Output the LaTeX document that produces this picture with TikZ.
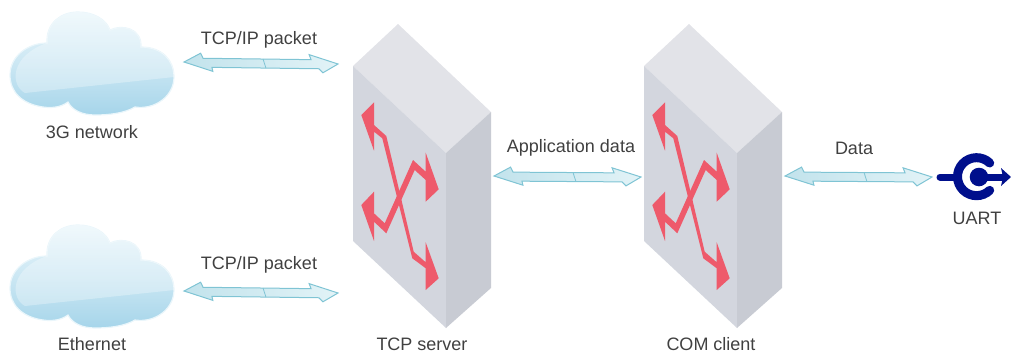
\documentclass[tikz,border=0pt]{standalone}
\usepackage{fontspec}
\setmainfont{Liberation Sans}
\usepackage{tikz}
\usetikzlibrary{calc}

\definecolor{labelgray}{HTML}{404040}
\definecolor{linkline}{HTML}{7FC4D4}
\definecolor{linkdark}{HTML}{C2E3EC}
\definecolor{linklight}{HTML}{E2F3F7}
\definecolor{boxtop}{HTML}{E2E3E8}
\definecolor{boxfront}{HTML}{D3D6DE}
\definecolor{boxside}{HTML}{C8CBD3}
\definecolor{routered}{HTML}{EE5A6B}
\definecolor{cloudhigh}{HTML}{EAF6FB}
\definecolor{cloudlow}{HTML}{A6D5EA}
\definecolor{portblue}{HTML}{000F8C}

\tikzset{
	label text/.style={font=\fontsize{18}{20}\selectfont,text=labelgray,inner sep=0pt},
	link arrow/.style={draw=linkline,line width=1pt,line join=miter,left color=linkdark,right color=linklight},
	link split/.style={draw=linkline,line width=.8pt},
	switch box/.pic={
		\fill[boxtop] (0,0) -- (45,-42) -- (138,46) -- (93,87) -- cycle;
		\fill[boxfront] (0,0) -- (93,87) -- (93,262) -- (0,175) -- cycle;
		\fill[boxside] (93,87) -- (138,46) -- (138,222) -- (93,262) -- cycle;
		\fill[routered] (8.3,49) -- (21,36.3) -- (21,59) -- (33.3,70) -- (60.7,185.7) -- (72.7,196.3)
			-- (72.7,176.3) -- (85.7,212.3) -- (72.7,224) -- (72.7,202.3) -- (59.3,192.3)
			-- (29.3,72.3) -- (21,65.7) -- (21,84.7) -- cycle;
		\fill[routered] (8.3,139) -- (21,125.7) -- (21,147.3) -- (31.7,157.3) -- (60,94) -- (72.7,105.7)
			-- (72.7,86.7) -- (85.7,123.3) -- (72.7,135.7) -- (72.7,114) -- (61.7,104)
			-- (33.3,167.3) -- (21,155.7) -- (21,175) -- cycle;
		\coordinate (-up) at (-15,-2);
		\coordinate (-down) at (-15,227);
		\coordinate (-left) at (-3,111);
		\coordinate (-right) at (141,110);
	},
	cloud blob/.pic={
		\path[draw=cloudhigh,line width=1.2pt,top color=cloudhigh,bottom color=cloudlow,middle color=cloudhigh!55!cloudlow]
			(47,43) .. controls (46,22) and (62,12) .. (78,12)
			.. controls (93,12) and (106,19) .. (110,30)
			.. controls (122,24) and (142,28) .. (141,47)
			.. controls (162,47) and (174,60) .. (174,77)
			.. controls (174,96) and (155,110) .. (135,107)
			.. controls (125,113) and (110,115) .. (95,115)
			.. controls (82,115) and (72,110) .. (68,102)
			.. controls (60,108) and (50,108) .. (43,107)
			.. controls (22,104) and (10,92) .. (10,75)
			.. controls (10,56) and (28,43) .. (47,43) -- cycle;
		\begin{scope}
			\clip (47,43) .. controls (46,22) and (62,12) .. (78,12)
			.. controls (93,12) and (106,19) .. (110,30)
			.. controls (122,24) and (142,28) .. (141,47)
			.. controls (162,47) and (174,60) .. (174,77)
			-- (25,93) .. controls (10,85) and (10,56) .. (47,43) -- cycle;
			\fill[white,opacity=.3] (0,0) rectangle (180,110);
		\end{scope}
		\coordinate (-port) at (184,62);
	},
}

\newcommand{\datalink}[2]{
	\draw[link arrow] (#1)
		-- ($(#1)!16.5pt!(#2)!9pt!90:(#2)$)
		-- ($(#1)!19pt!(#2)!4pt!90:(#2)$)
		-- ($(#2)!27pt!(#1)!4pt!-90:(#1)$)
		-- ($(#2)!29pt!(#1)!9pt!-90:(#1)$)
		-- (#2)
		-- ($(#2)!15pt!(#1)!9pt!90:(#1)$)
		-- ($(#2)!19pt!(#1)!5pt!90:(#1)$)
		-- ($(#1)!28pt!(#2)!5pt!-90:(#2)$)
		-- ($(#1)!29pt!(#2)!9pt!-90:(#2)$)
		-- cycle;
	\draw[link split] ($(#1)!79pt!(#2)!4pt!90:(#2)$) -- ($(#1)!82pt!(#2)!5pt!-90:(#2)$);
}

\begin{document}
\begin{tikzpicture}[x=1pt,y=-1pt]
	\useasboundingbox (0,0) rectangle (1011,354);

	\pic (net3g) at (0,0) {cloud blob};
	\pic (ether) at (0,213) {cloud blob};
	\pic (tcpserver) at (353,66) {switch box};
	\pic (comclient) at (644,66) {switch box};

	\coordinate (etherport) at (184,291);
	\coordinate (uartin) at (932,177);

	\node[label text] (net3glabel) at (92,132) {3G network};
	\node[label text] (etherlabel) at (92,344) {Ethernet};
	\node[label text] (tcpserverlabel) at (422,344) {TCP server};
	\node[label text] (comclientlabel) at (711,344) {COM client};
	\node[label text] (uplabel) at (259,40) {TCP/IP packet};
	\node[label text] (downlabel) at (259,265) {TCP/IP packet};
	\node[label text] (applabel) at (571,148) {Application data};
	\node[label text] (datalabel) at (854,148) {Data};
	\node[label text] (uartlabel) at (977,218) {UART};

	\datalink{net3g-port}{tcpserver-up}
	\datalink{etherport}{tcpserver-down}
	\datalink{tcpserver-right}{comclient-left}
	\datalink{comclient-right}{uartin}

	% serial port symbol
	\draw[portblue,line width=9pt,line cap=round] (989.7,163) arc (-46:-314:19);
	\draw[portblue,line width=7pt,line cap=round] (940,177) -- (958,177);
	\fill[portblue] (979,177) circle (9.3);
	\draw[portblue,line width=7pt] (979,177) -- (1004,177);
	\fill[portblue] (1001,168) -- (1011,177) -- (1001,186) -- (1003,177) -- cycle;
\end{tikzpicture}
\end{document}
